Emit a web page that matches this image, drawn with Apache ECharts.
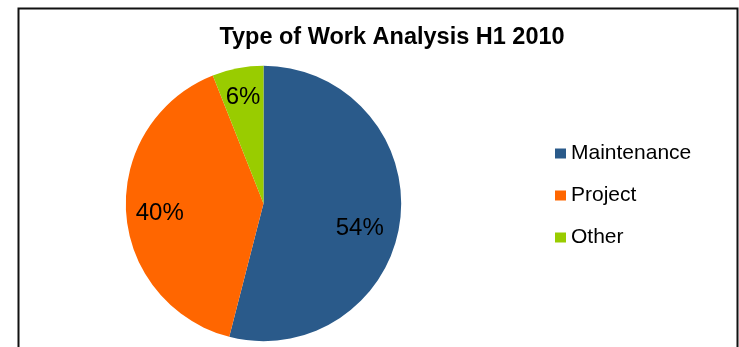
<!DOCTYPE html>
<html>
<head>
<meta charset="utf-8">
<script src="https://cdn.jsdelivr.net/npm/echarts@6/dist/echarts.min.js"></script>
<style>
  html, body { margin: 0; padding: 0; background: #fff; }
  #chart { width: 739px; height: 347px; }
</style>
</head>
<body>
<div id="chart"></div>
<script>
// Share of work by type, first half of 2010 (percent)
const categories = ['Maintenance', 'Project', 'Other'];
const shares = [54, 40, 6];
const colors = ['#2A5A8A', '#FF6600', '#99CC00'];

// Nudge each percentage label away from the default mid-radius spot
const labelOffsets = [[25, 16], [-32, 5], [-7, -36]];

const FONT = '"Liberation Sans", Arial, sans-serif';

const chart = echarts.init(document.getElementById('chart'), null, { renderer: 'canvas' });

chart.setOption({
  animation: false,
  backgroundColor: '#ffffff',
  title: {
    text: 'Type of Work Analysis H1 2010',
    left: 392,
    top: 26,
    padding: 0,
    textAlign: 'center',
    textStyle: { fontFamily: FONT, fontSize: 23.5, fontWeight: 'bold', color: '#000' }
  },
  legend: {
    orient: 'vertical',
    left: 555,
    top: 143,
    padding: 0,
    icon: 'rect',
    itemWidth: 11,
    itemHeight: 10,
    itemGap: 21,
    textStyle: { fontFamily: FONT, fontSize: 21, color: '#000' },
    data: categories
  },
  graphic: [{
    type: 'rect',
    shape: { x: 18.5, y: 8.5, width: 719, height: 400 },
    style: { fill: 'none', stroke: '#111', lineWidth: 2 },
    silent: true
  }],
  series: [{
    type: 'pie',
    center: [263.5, 203.5],
    radius: [0, 137.7],
    startAngle: 90,
    clockwise: true,
    itemStyle: { borderWidth: 0 },
    label: {
      show: true,
      position: 'inside',
      formatter: '{d}%',
      fontFamily: FONT,
      fontSize: 24,
      color: '#000'
    },
    labelLine: { show: false },
    emphasis: { disabled: true },
    data: categories.map((name, i) => ({
      name: name,
      value: shares[i],
      itemStyle: { color: colors[i] },
      label: { offset: labelOffsets[i] }
    }))
  }]
});
</script>
</body>
</html>
